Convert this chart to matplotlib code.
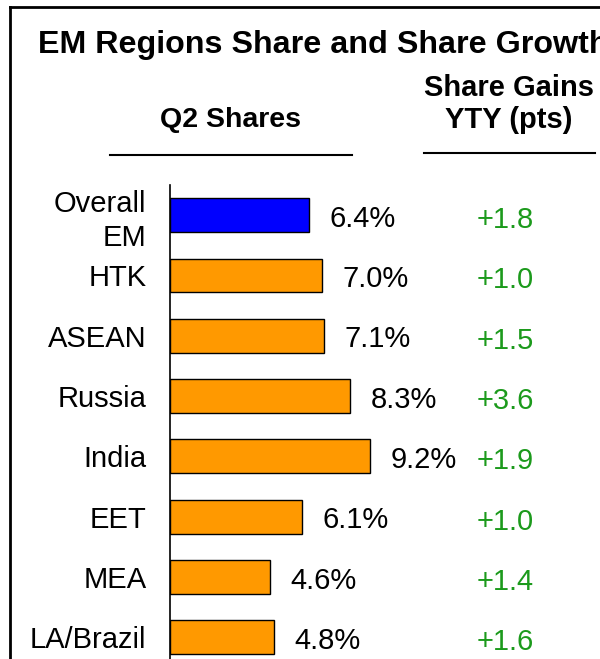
import matplotlib
matplotlib.use("Agg")
import matplotlib.pyplot as plt
from matplotlib.lines import Line2D
from matplotlib.transforms import blended_transform_factory

plt.rcParams['font.family'] = ['Liberation Sans', 'DejaVu Sans']

regions = ["Overall\nEM", "HTK", "ASEAN", "Russia", "India", "EET", "MEA", "LA/Brazil"]
shares = [6.4, 7.0, 7.1, 8.3, 9.2, 6.1, 4.6, 4.8]
gains = ["+1.8", "+1.0", "+1.5", "+3.6", "+1.9", "+1.0", "+1.4", "+1.6"]
bar_colors = ["#0000FF"] + ["#FF9900"] * 7
green = "#1c9a1c"

W, H = 600, 659
fig = plt.figure(figsize=(W / 100, H / 100), dpi=100)


def fx(px):
    return px / W


def fy(py):
    return 1 - py / H


# outer frame (only top and left edges visible)
fig.add_artist(Line2D([fx(10), fx(10)], [fy(7), fy(H + 5)], color="black", lw=2))
fig.add_artist(Line2D([fx(10), fx(W + 5)], [fy(7), fy(7)], color="black", lw=2))

# headings
fig.text(fx(38), fy(45), "EM Regions Share and Share Growth", fontsize=23.2,
         fontweight="bold", ha="left", va="center")
fig.text(fx(231), fy(120), "Q2 Shares", fontsize=20.5, fontweight="bold",
         ha="center", va="center")
fig.text(fx(509), fy(104), "Share Gains\nYTY (pts)", fontsize=21, fontweight="bold",
         ha="center", va="center", linespacing=1.15)
fig.add_artist(Line2D([fx(110), fx(352)], [fy(155), fy(155)], color="black", lw=1.5))
fig.add_artist(Line2D([fx(424), fx(595)], [fy(153), fy(153)], color="black", lw=1.5))

# bar panel
ax = fig.add_axes([fx(170), 0, fx(430), (H - 185) / H])
pos = list(range(len(regions)))
ax.barh(pos, shares, height=0.56, color=bar_colors, edgecolor="black", linewidth=1)
ax.set_xlim(0, 430 / 21.7)
ax.set_ylim(7.36, -0.5)

for i, v in enumerate(shares):
    ax.text(v + 0.95, i + 0.06, "%.1f%%" % v, fontsize=21, va="center", ha="left")

tr = blended_transform_factory(ax.transAxes, ax.transData)
for i, g in enumerate(gains):
    ax.text((505 - 170) / 430, i + 0.08, g, fontsize=21, color=green,
            va="center", ha="center", transform=tr)

ax.set_yticks(pos)
ax.set_yticklabels(regions, fontsize=21, linespacing=1.25)
ax.tick_params(axis="y", length=0, pad=17)
ax.set_xticks([])
for s in ["top", "right", "bottom"]:
    ax.spines[s].set_visible(False)
ax.spines["left"].set_linewidth(1.2)
ax.patch.set_visible(False)

fig.savefig("out.png", dpi=100)
